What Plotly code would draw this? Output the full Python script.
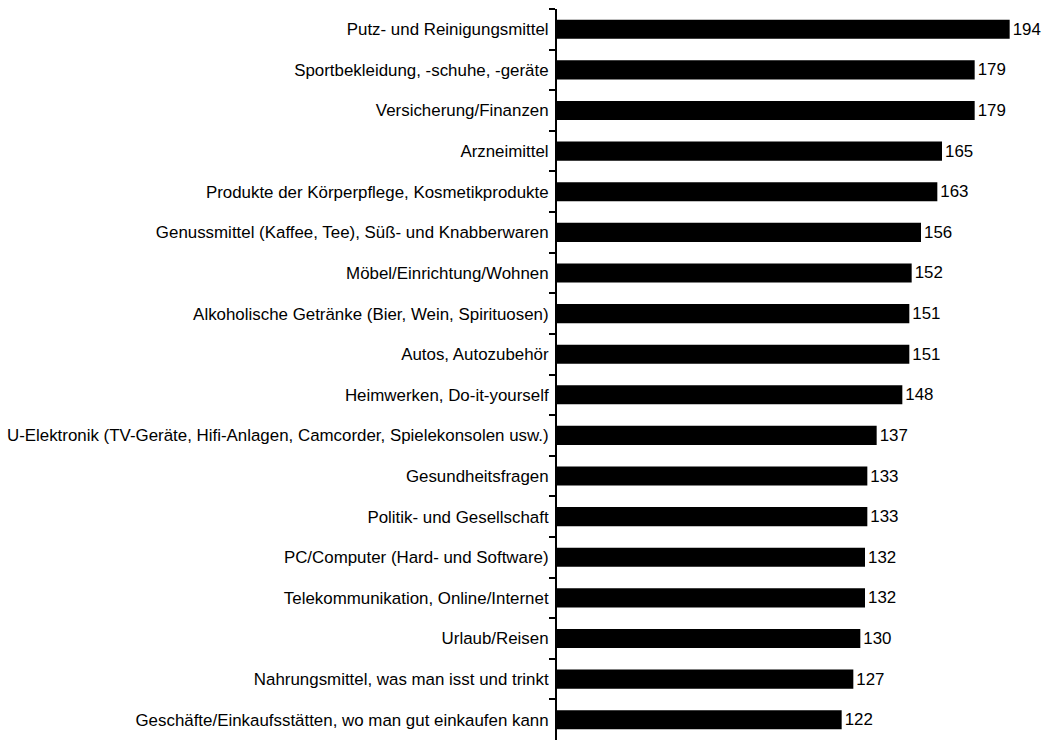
import plotly.graph_objects as go

categories = [
    "Putz- und Reinigungsmittel",
    "Sportbekleidung, -schuhe, -geräte",
    "Versicherung/Finanzen",
    "Arzneimittel",
    "Produkte der Körperpflege, Kosmetikprodukte",
    "Genussmittel (Kaffee, Tee), Süß- und Knabberwaren",
    "Möbel/Einrichtung/Wohnen",
    "Alkoholische Getränke (Bier, Wein, Spirituosen)",
    "Autos, Autozubehör",
    "Heimwerken, Do-it-yourself",
    "U-Elektronik (TV-Geräte, Hifi-Anlagen, Camcorder, Spielekonsolen usw.)",
    "Gesundheitsfragen",
    "Politik- und Gesellschaft",
    "PC/Computer (Hard- und Software)",
    "Telekommunikation, Online/Internet",
    "Urlaub/Reisen",
    "Nahrungsmittel, was man isst und trinkt",
    "Geschäfte/Einkaufsstätten, wo man gut einkaufen kann",
]
values = [194, 179, 179, 165, 163, 156, 152, 151, 151, 148, 137, 133, 133, 132, 132, 130, 127, 122]

font_family = "Arial, Liberation Sans, sans-serif"
font_size = 16.9

fig = go.Figure(
    go.Bar(
        x=values,
        y=categories,
        orientation="h",
        marker=dict(color="black", line=dict(width=0)),
        text=[str(v) for v in values],
        textposition="outside",
        textfont=dict(family=font_family, size=font_size, color="black"),
        cliponaxis=False,
    )
)

fig.update_layout(
    width=1049,
    height=740,
    margin=dict(l=557, r=2, t=9, b=0),
    paper_bgcolor="white",
    plot_bgcolor="white",
    bargap=0.53,
    showlegend=False,
    font=dict(family=font_family, size=font_size, color="black"),
)

fig.update_xaxes(
    range=[0, 210],
    visible=False,
    showgrid=False,
    zeroline=False,
)

fig.update_yaxes(
    autorange="reversed",
    showline=True,
    linecolor="black",
    linewidth=2,
    ticks="outside",
    tickson="boundaries",
    ticklen=6,
    tickwidth=2,
    tickcolor="black",
    showgrid=False,
    ticklabelstandoff=3,
    tickfont=dict(family=font_family, size=font_size, color="black"),
)

fig.write_html("out.html")
